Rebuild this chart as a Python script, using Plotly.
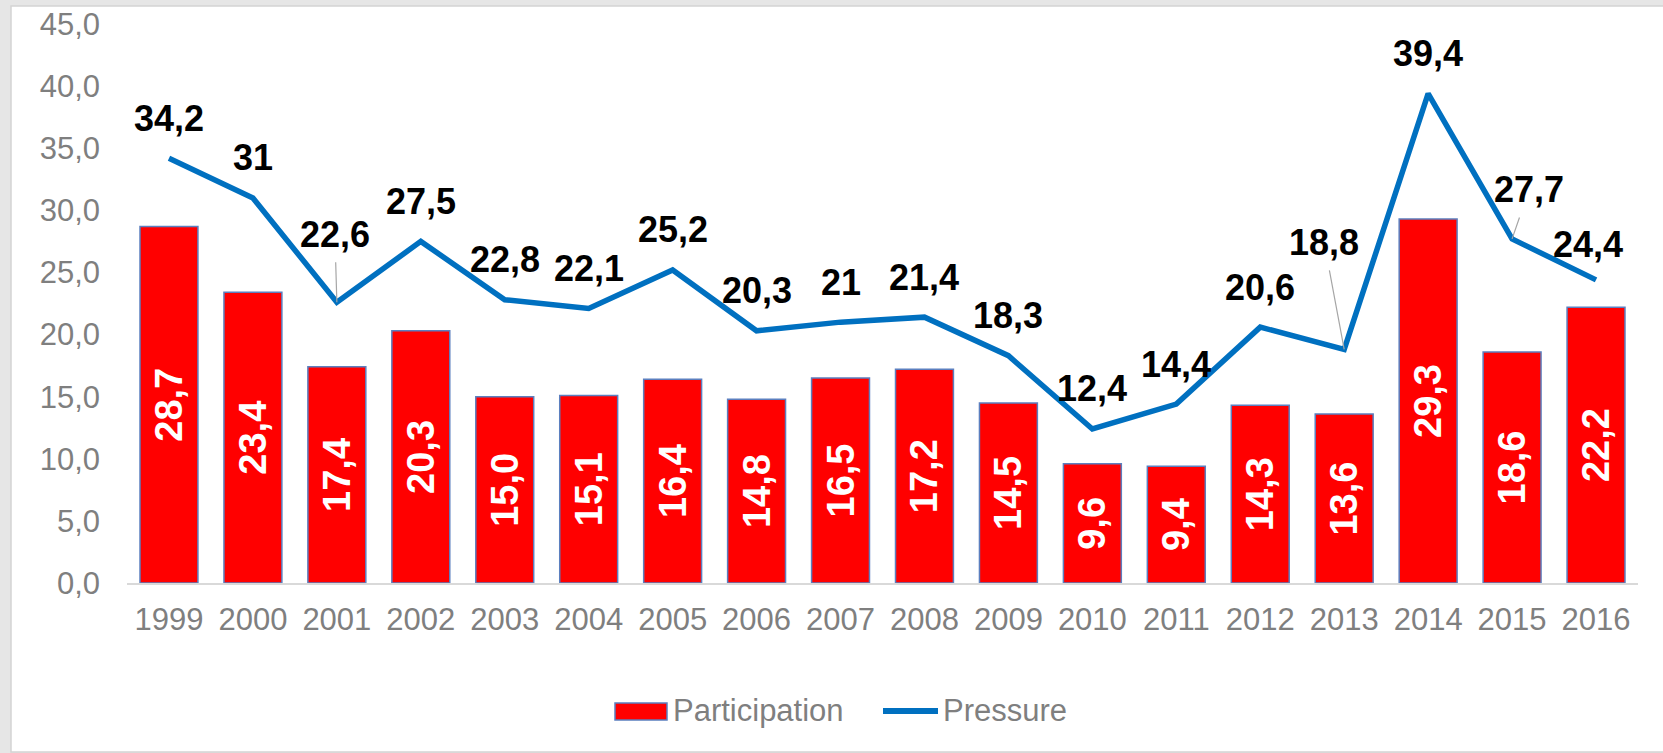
import plotly.graph_objects as go

# Data
years = ["1999", "2000", "2001", "2002", "2003", "2004", "2005", "2006", "2007",
         "2008", "2009", "2010", "2011", "2012", "2013", "2014", "2015", "2016"]
participation = [28.7, 23.4, 17.4, 20.3, 15.0, 15.1, 16.4, 14.8, 16.5,
                 17.2, 14.5, 9.6, 9.4, 14.3, 13.6, 29.3, 18.6, 22.2]
pressure = [34.2, 31.0, 22.6, 27.5, 22.8, 22.1, 25.2, 20.3, 21.0,
            21.4, 18.3, 12.4, 14.4, 20.6, 18.8, 39.4, 27.7, 24.4]
y_ticks = [0, 5, 10, 15, 20, 25, 30, 35, 40, 45]
series_names = ["Participation", "Pressure"]

FONT = "Liberation Sans, Arial, sans-serif"
GREY_TEXT = "#7F7F7F"
BAR_RED = "#FF0000"
BAR_EDGE = "#5B7FBF"
LINE_BLUE = "#0070C0"
W, H = 1663, 753
L, R, T, B = 127, 25, 24, 170
plot_w = W - L - R
plot_h = H - T - B


def px_x(px):
    """Page pixel column -> paper x."""
    return (px - L) / plot_w


def px_y(py):
    """Page pixel row -> paper y."""
    return (H - B - py) / plot_h


# Label offsets for the Pressure values (pixels, relative to the point);
# a few labels are pulled away and connected with a leader line.
DEFAULT_DY = 40
label_dx = {"2016": -8}
label_dy = {"2016": 35}
leaders = {"2001": (-2, -68), "2013": (-20, -107), "2015": (17, -49)}


def fmt(v):
    return f"{v:g}".replace(".", ",")


fig = go.Figure()

fig.add_trace(go.Bar(
    x=years, y=participation, name=series_names[0],
    marker=dict(color=BAR_RED, line=dict(color=BAR_EDGE, width=1.5)),
    texttemplate="<b>%{y:.1f}</b>",
    textposition="inside", insidetextanchor="middle", textangle=-90,
    constraintext="none",
    textfont=dict(family=FONT, size=38, color="white"),
    hoverinfo="x+y",
))

fig.add_trace(go.Scatter(
    x=years, y=pressure, name=series_names[1], mode="lines",
    line=dict(color=LINE_BLUE, width=5.5),
    hoverinfo="x+y",
))

# Value labels on the Pressure line (category index positions)
for i, (yr, v) in enumerate(zip(years, pressure)):
    txt = "<b>" + fmt(v) + "</b>"
    if yr in leaders:
        ax, ay = leaders[yr]
        fig.add_annotation(
            x=i, y=v, xref="x", yref="y", text=txt, showarrow=True,
            ax=ax, ay=ay, arrowhead=0, arrowwidth=1.2, arrowcolor="#A6A6A6",
            startstandoff=6, standoff=0,
            font=dict(family=FONT, size=36, color="black"),
        )
    else:
        fig.add_annotation(
            x=i, y=v, xref="x", yref="y", text=txt, showarrow=False,
            xshift=label_dx.get(yr, 0), yshift=label_dy.get(yr, DEFAULT_DY),
            font=dict(family=FONT, size=36, color="black"),
        )

# White chart panel on a light grey page
fig.add_shape(
    type="rect", xref="paper", yref="paper", layer="below",
    x0=px_x(11), x1=px_x(W + 5), y0=px_y(752), y1=px_y(6),
    fillcolor="white", line=dict(color="#D4D4D4", width=1.5),
)

# Legend: swatches and names
fig.add_shape(
    type="rect", xref="paper", yref="paper",
    x0=px_x(615), x1=px_x(667), y0=px_y(720), y1=px_y(703),
    fillcolor=BAR_RED, line=dict(color=BAR_EDGE, width=1.5),
)
fig.add_annotation(
    xref="paper", yref="paper", x=px_x(671), y=px_y(710),
    xanchor="left", yanchor="middle", showarrow=False,
    text=series_names[0], font=dict(family=FONT, size=31, color=GREY_TEXT),
)
fig.add_shape(
    type="line", xref="paper", yref="paper",
    x0=px_x(883), x1=px_x(938), y0=px_y(711), y1=px_y(711),
    line=dict(color=LINE_BLUE, width=6),
)
fig.add_annotation(
    xref="paper", yref="paper", x=px_x(941), y=px_y(710),
    xanchor="left", yanchor="middle", showarrow=False,
    text=series_names[1], font=dict(family=FONT, size=31, color=GREY_TEXT),
)

fig.update_layout(
    width=W, height=H,
    margin=dict(l=L, r=R, t=T, b=B, pad=0, autoexpand=False),
    paper_bgcolor="#E6E6E6", plot_bgcolor="rgba(0,0,0,0)",
    separators=",.",
    bargap=0.31,
    font=dict(family=FONT, size=31, color=GREY_TEXT),
    showlegend=False,
    xaxis=dict(
        type="category", range=[-0.5, len(years) - 0.5], automargin=False,
        showline=True, linecolor="#D9D9D9", linewidth=2,
        showgrid=False, zeroline=False, ticks="",
        tickfont=dict(family=FONT, size=31, color=GREY_TEXT),
        ticklabelstandoff=8, fixedrange=True,
    ),
    yaxis=dict(
        range=[0, 45], tickvals=y_ticks, tickformat=".1f", automargin=False,
        showline=False, showgrid=False, zeroline=False, ticks="",
        tickfont=dict(family=FONT, size=31, color=GREY_TEXT),
        ticklabelstandoff=26, fixedrange=True,
    ),
)

fig.write_html("out.html")
